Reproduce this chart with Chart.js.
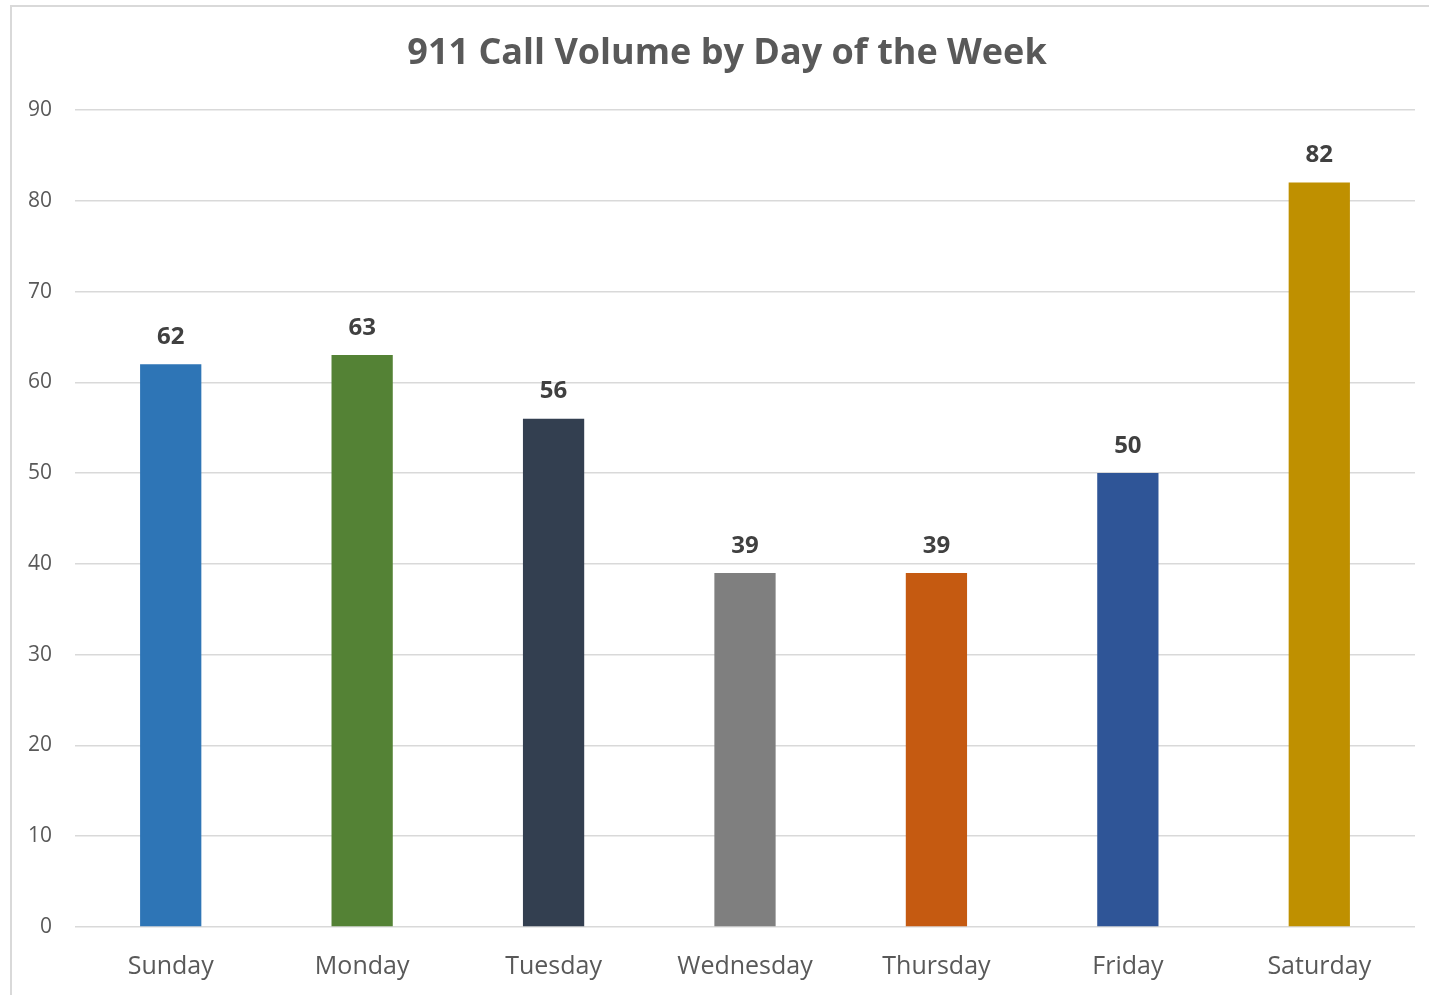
<!DOCTYPE html>
<html>
<head>
<meta charset="utf-8">
<script src="https://cdn.jsdelivr.net/npm/chart.js@4"></script>
<style>
  html, body { margin: 0; padding: 0; background: #fff; overflow: hidden; }
  .frame { position: absolute; left: 10px; top: 5px; width: 1440px; height: 1010px; border: 2px solid #d9d9d9; box-sizing: border-box; }
  .wrap { position: absolute; left: 0; top: 0; width: 1429px; height: 995px; }
</style>
</head>
<body>
<div class="frame"></div>
<div class="wrap"><canvas id="chart"></canvas></div>
<script>
// data
const days = ['Sunday', 'Monday', 'Tuesday', 'Wednesday', 'Thursday', 'Friday', 'Saturday'];
const calls = [62, 63, 56, 39, 39, 50, 82];
const barColors = ['#2e75b6', '#548235', '#333f50', '#7f7f7f', '#c55a11', '#2f5597', '#bf9000'];
const yTicks = [0, 10, 20, 30, 40, 50, 60, 70, 80, 90];
const chartTitle = '911 Call Volume by Day of the Week';

const FONT = "'Open Sans', 'Liberation Sans', sans-serif";

// value labels over each bar
const barLabels = {
  id: 'barLabels',
  afterDatasetsDraw(chart) {
    const ctx = chart.ctx;
    const meta = chart.getDatasetMeta(0);
    ctx.save();
    ctx.font = 'bold 24px ' + FONT;
    ctx.fillStyle = '#404040';
    ctx.textAlign = 'center';
    ctx.textBaseline = 'bottom';
    meta.data.forEach((bar, i) => {
      ctx.fillText(String(calls[i]), bar.x, bar.y - 15);
    });
    ctx.restore();
  }
};

// title centred on the framed box, not on the chart area
const titlePlugin = {
  id: 'boxTitle',
  afterDraw(chart) {
    const ctx = chart.ctx;
    ctx.save();
    ctx.font = 'bold 36px ' + FONT;
    ctx.fillStyle = '#595959';
    ctx.textAlign = 'center';
    ctx.textBaseline = 'middle';
    ctx.fillText(chartTitle, 727, 54);
    ctx.restore();
  }
};

const ctx = document.getElementById('chart').getContext('2d');
new Chart(ctx, {
  type: 'bar',
  data: {
    labels: days,
    datasets: [{
      data: calls,
      backgroundColor: barColors,
      borderWidth: 0,
      barPercentage: 0.32,
      categoryPercentage: 1
    }]
  },
  options: {
    responsive: true,
    maintainAspectRatio: false,
    animation: false,
    layout: { padding: { top: 110, right: 14, bottom: 0, left: 0 } },
    plugins: {
      legend: { display: false },
      tooltip: { enabled: false },
      title: { display: false }
    },
    scales: {
      y: {
        min: 0,
        max: 90,
        afterBuildTicks(scale) {
          scale.ticks = yTicks.map(v => ({ value: v }));
        },
        afterFit(scale) { scale.width = 75; },
        grid: { color: '#d9d9d9', lineWidth: 1.5, drawTicks: false },
        border: { display: false },
        ticks: {
          color: '#595959',
          padding: 23,
          font: { family: FONT, size: 21 }
        }
      },
      x: {
        afterFit(scale) { scale.height = 68; },
        grid: { display: false },
        border: { display: false },
        ticks: {
          color: '#595959',
          padding: 17,
          font: { family: FONT, size: 25 }
        }
      }
    }
  },
  plugins: [barLabels, titlePlugin]
});
</script>
</body>
</html>
